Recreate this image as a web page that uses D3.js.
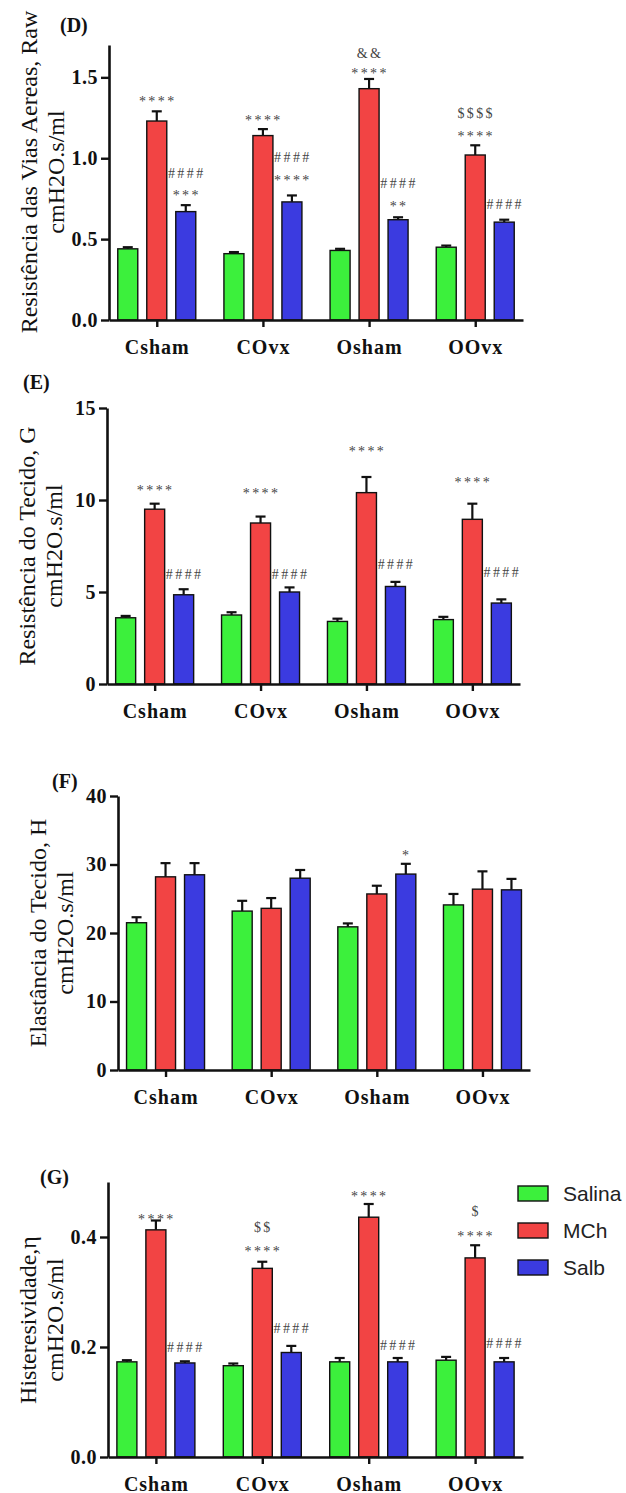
<!DOCTYPE html>
<html>
<head>
<meta charset="utf-8">
<script src="https://cdn.jsdelivr.net/npm/d3@7"></script>
<style>
  body { margin: 0; background: #fff; }
</style>
</head>
<body>
<div id="chart"></div>
<script>
const groups = ["Csham", "COvx", "Osham", "OOvx"];
const series = ["Salina", "MCh", "Salb"];

// (D) airway resistance, Raw
const rawTicks = [0, 0.5, 1.0, 1.5];
const rawSalina = [0.44, 0.41, 0.43, 0.45];
const rawMCh = [1.23, 1.14, 1.43, 1.02];
const rawSalb = [0.67, 0.73, 0.62, 0.605];
const rawSalinaSem = [0.01, 0.01, 0.01, 0.01];
const rawMChSem = [0.06, 0.04, 0.06, 0.06];
const rawSalbSem = [0.04, 0.04, 0.015, 0.015];
const rawMarks = [
  ["Csham", "MCh", "****", 1.37], ["Csham", "Salb", "####", 0.91], ["Csham", "Salb", "***", 0.79],
  ["COvx", "MCh", "****", 1.25], ["COvx", "Salb", "####", 1.01], ["COvx", "Salb", "****", 0.88],
  ["Osham", "MCh", "&&", 1.65], ["Osham", "MCh", "****", 1.54], ["Osham", "Salb", "####", 0.85], ["Osham", "Salb", "**", 0.72],
  ["OOvx", "MCh", "$$$$", 1.28], ["OOvx", "MCh", "****", 1.15], ["OOvx", "Salb", "####", 0.72]
];

// (E) tissue resistance, G
const gTicks = [0, 5, 10, 15];
const gSalina = [3.6, 3.75, 3.4, 3.5];
const gMCh = [9.5, 8.75, 10.4, 8.95];
const gSalb = [4.85, 5.0, 5.3, 4.4];
const gSalinaSem = [0.1, 0.15, 0.15, 0.15];
const gMChSem = [0.3, 0.35, 0.85, 0.85];
const gSalbSem = [0.3, 0.25, 0.25, 0.2];
const gMarks = [
  ["Csham", "MCh", "****", 10.7], ["Csham", "Salb", "####", 6.0],
  ["COvx", "MCh", "****", 10.5], ["COvx", "Salb", "####", 6.0],
  ["Osham", "MCh", "****", 12.8], ["Osham", "Salb", "####", 6.5],
  ["OOvx", "MCh", "****", 11.1], ["OOvx", "Salb", "####", 6.1]
];

// (F) tissue elastance, H
const hTicks = [0, 10, 20, 30, 40];
const hSalina = [21.5, 23.2, 20.9, 24.1];
const hMCh = [28.2, 23.6, 25.7, 26.4];
const hSalb = [28.5, 28.0, 28.6, 26.3];
const hSalinaSem = [0.8, 1.5, 0.5, 1.6];
const hMChSem = [2.0, 1.5, 1.2, 2.6];
const hSalbSem = [1.7, 1.2, 1.5, 1.6];
const hMarks = [["Osham", "Salb", "*", 31.8]];

// (G) hysteresivity, eta
const etaTicks = [0, 0.2, 0.4];
const etaSalina = [0.173, 0.166, 0.173, 0.176];
const etaMCh = [0.413, 0.343, 0.436, 0.362];
const etaSalb = [0.171, 0.19, 0.173, 0.173];
const etaSalinaSem = [0.003, 0.004, 0.007, 0.006];
const etaMChSem = [0.017, 0.012, 0.024, 0.023];
const etaSalbSem = [0.003, 0.012, 0.007, 0.007];
const etaMarks = [
  ["Csham", "MCh", "****", 0.438], ["Csham", "Salb", "####", 0.2],
  ["COvx", "MCh", "$$", 0.418], ["COvx", "MCh", "****", 0.38], ["COvx", "Salb", "####", 0.235],
  ["Osham", "MCh", "****", 0.48], ["Osham", "Salb", "####", 0.204],
  ["OOvx", "MCh", "$", 0.447], ["OOvx", "MCh", "****", 0.407], ["OOvx", "Salb", "####", 0.207]
];

const colors = { Salina: "#3cf03c", MCh: "#f24444", Salb: "#3b3be0" };
const SERIF = "'Liberation Serif', Tinos, 'Times New Roman', 'DejaVu Serif', serif";
const SANS = "'Liberation Sans', Arimo, Arial, sans-serif";

const panels = [
  { tag: "(D)", tagX: 60, tagY: 32, left: 109, right: 523, top: 45, bottom: 320, max: 1.7, ticks: rawTicks, fmt: ".1f",
    means: [rawSalina, rawMCh, rawSalb], sems: [rawSalinaSem, rawMChSem, rawSalbSem], marks: rawMarks,
    title: ["Resistência das Vias Aereas, Raw", "cmH2O.s/ml"], titleY: 172 },
  { tag: "(E)", tagX: 23, tagY: 389, left: 107, right: 520, top: 408, bottom: 684, max: 15, ticks: gTicks, fmt: "d",
    means: [gSalina, gMCh, gSalb], sems: [gSalinaSem, gMChSem, gSalbSem], marks: gMarks,
    title: ["Resistência do Tecido, G", "cmH2O.s/ml"], titleY: 546 },
  { tag: "(F)", tagX: 52, tagY: 788, left: 118, right: 530, top: 796, bottom: 1070, max: 40, ticks: hTicks, fmt: "d",
    means: [hSalina, hMCh, hSalb], sems: [hSalinaSem, hMChSem, hSalbSem], marks: hMarks,
    title: ["Elastância do Tecido, H", "cmH2O.s/ml"], titleY: 933 },
  { tag: "(G)", tagX: 40, tagY: 1184, left: 108, right: 523, top: 1182, bottom: 1457, max: 0.5, ticks: etaTicks, fmt: ".1f",
    means: [etaSalina, etaMCh, etaSalb], sems: [etaSalinaSem, etaMChSem, etaSalbSem], marks: etaMarks,
    title: ["Histeresividade,η", "cmH2O.s/ml"], titleY: 1320 }
];

const svg = d3.select("#chart").append("svg").attr("width", 626).attr("height", 1493)
  .style("font-family", SERIF);

panels.forEach(p => {
  const g = svg.append("g");
  const x = d3.scalePoint().domain(groups).range([p.left, p.right]).padding(0.45);
  const xs = d3.scaleBand().domain(series).range([-39, 39]).paddingInner(0.31);
  const y = d3.scaleLinear().domain([0, p.max]).range([p.bottom, p.top]);
  const bw = xs.bandwidth();

  const rows = [];
  series.forEach((s, si) => groups.forEach((grp, gi) => {
    rows.push({ grp, s, v: p.means[si][gi], e: p.sems[si][gi] });
  }));

  // error bars (upper only)
  const eb = g.append("g").selectAll("g").data(rows).join("g");
  eb.append("line")
    .attr("x1", d => x(d.grp) + xs(d.s) + bw / 2).attr("x2", d => x(d.grp) + xs(d.s) + bw / 2)
    .attr("y1", d => y(d.v)).attr("y2", d => y(d.v + d.e))
    .attr("stroke", "#111").attr("stroke-width", 2.2);
  eb.append("line")
    .attr("x1", d => x(d.grp) + xs(d.s) + bw / 2 - 5).attr("x2", d => x(d.grp) + xs(d.s) + bw / 2 + 5)
    .attr("y1", d => y(d.v + d.e)).attr("y2", d => y(d.v + d.e))
    .attr("stroke", "#111").attr("stroke-width", 2.2);

  g.append("g").selectAll("rect").data(rows).join("rect")
    .attr("x", d => x(d.grp) + xs(d.s))
    .attr("y", d => y(d.v))
    .attr("width", bw)
    .attr("height", d => y(0) - y(d.v))
    .attr("fill", d => colors[d.s])
    .attr("stroke", "#111").attr("stroke-width", 1.4);

  // significance marks
  g.append("g").selectAll("text").data(p.marks).join("text")
    .attr("x", d => x(d[0]) + xs(d[1]) + bw / 2 + 1)
    .attr("y", d => y(d[3]) + (d[2][0] === "*" ? 7.5 : 5))
    .attr("text-anchor", "middle")
    .attr("font-family", SERIF)
    .attr("font-size", 14).attr("letter-spacing", 2.4)
    .attr("fill", "#444")
    .text(d => d[2]);

  const yAxis = g.append("g").attr("transform", `translate(${p.left},0)`)
    .call(d3.axisLeft(y).tickValues(p.ticks).tickFormat(d3.format(p.fmt)).tickSize(8).tickSizeOuter(0));
  const xAxis = g.append("g").attr("transform", `translate(0,${p.bottom})`)
    .call(d3.axisBottom(x).tickSize(7).tickSizeOuter(0));
  [yAxis, xAxis].forEach(a => {
    a.attr("font-family", SERIF);
    a.select(".domain").attr("stroke", "#111").attr("stroke-width", 2.6);
    a.selectAll(".tick line").attr("stroke", "#111").attr("stroke-width", 2.4);
    a.selectAll("text").attr("font-weight", "bold").attr("fill", "#111");
  });
  yAxis.selectAll("text").attr("font-size", 20).attr("x", -11).attr("letter-spacing", 0.5);
  xAxis.selectAll("text").attr("font-size", 20).attr("letter-spacing", 1).attr("y", 0).attr("dy", 34);

  // y title, two lines
  const tx = p.left - 72;
  p.title.forEach((t, i) => {
    g.append("text")
      .attr("transform", `translate(${tx + i * 27},${p.titleY}) rotate(-90)`)
      .attr("text-anchor", "middle")
      .attr("font-family", SERIF)
      .attr("font-size", 24).attr("fill", "#111")
      .text(t);
  });

  g.append("text").attr("x", p.tagX).attr("y", p.tagY)
    .attr("font-family", SERIF)
    .attr("font-size", 20).attr("font-weight", "bold").attr("fill", "#111")
    .text(p.tag);
});

// legend
const leg = svg.append("g").attr("transform", "translate(518,1186)");
leg.selectAll("g").data(series).join("g")
  .attr("transform", (d, i) => `translate(0,${i * 37})`)
  .each(function(d) {
    const r = d3.select(this);
    r.append("rect").attr("width", 30).attr("height", 15)
      .attr("fill", colors[d]).attr("stroke", "#111").attr("stroke-width", 1.4);
    r.append("text").attr("x", 45).attr("y", 15)
      .attr("font-family", SANS)
      .attr("font-size", 21).attr("fill", "#222").text(d);
  });
</script>
</body>
</html>
